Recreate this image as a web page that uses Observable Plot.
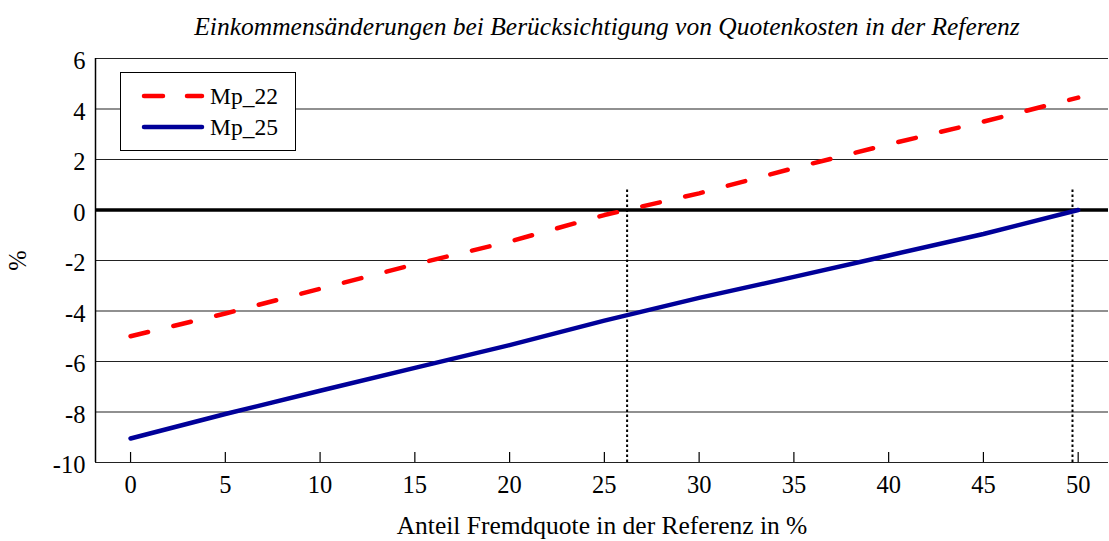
<!DOCTYPE html>
<html>
<head>
<meta charset="utf-8">
<script src="https://cdn.jsdelivr.net/npm/d3@7"></script>
<script src="https://cdn.jsdelivr.net/npm/@observablehq/plot@0.6"></script>
<style>
  html, body { margin: 0; padding: 0; background: #fff; }
  #wrap { position: relative; width: 1109px; height: 541px; font-family: "Liberation Serif", "Times New Roman", serif; }
  #title { height: 40px; box-sizing: border-box; padding-top: 14px; padding-left: 105px; text-align: center; font-style: italic; font-size: 25.5px; line-height: 26px; color: #000; white-space: nowrap; }
  #legend { position: absolute; left: 120px; top: 72px; width: 176px; height: 79px; box-sizing: border-box; border: 1px solid #000; background: #fff; font-size: 23.5px; }
  #legend .row { position: absolute; left: 0; height: 30px; width: 176px; }
  #legend svg { position: absolute; left: 18px; top: 0; }
  #legend span { position: absolute; left: 89px; top: 2px; line-height: 26px; }
</style>
</head>
<body>
<div id="wrap">
  <div id="title">Einkommensänderungen bei Berücksichtigung von Quotenkosten in der Referenz</div>
  <div id="chart"></div>
  <div id="legend"></div>
</div>
<script>
const xs = [0, 5, 10, 15, 20, 25, 30, 35, 40, 45, 50];
const mp22 = [-5.0, -4.1, -3.12, -2.15, -1.25, -0.2, 0.66, 1.66, 2.6, 3.5, 4.45];
const mp25 = [-9.05, -8.08, -7.16, -6.25, -5.35, -4.38, -3.48, -2.65, -1.8, -0.95, 0];
const seriesNames = ["Mp_22", "Mp_25"];
const seriesColors = ["#ff0000", "#000099"];
const yTicks = [-10, -8, -6, -4, -2, 0, 2, 4, 6];
const xTicks = [0, 5, 10, 15, 20, 25, 30, 35, 40, 45, 50];
const markers = [26.2, 49.7];
const markerTop = 0.8;
const xDomain = [-1.85, 51.6];
const yDomain = [-10, 6];

const d22 = xs.map((x, i) => ({x, y: mp22[i]}));
const d25 = xs.map((x, i) => ({x, y: mp25[i]}));
const fmt = d => String(d);

const chart = Plot.plot({
  width: 1109,
  height: 501,
  marginLeft: 95,
  marginRight: 1,
  marginTop: 18,
  marginBottom: 79,
  style: {fontFamily: "'Liberation Serif', 'Times New Roman', serif", fontSize: "24px", color: "#000", background: "#fff"},
  x: {domain: xDomain},
  y: {domain: yDomain},
  marks: [
    Plot.ruleY(yTicks.filter(d => d !== 0), {stroke: "#222", strokeWidth: 1.2}),
    Plot.ruleX([xDomain[0]], {stroke: "#000", strokeWidth: 1.5}),
    Plot.ruleX(markers, {y1: yDomain[0], y2: markerTop, stroke: "#000", strokeWidth: 2, strokeDasharray: "2.5,2.5"}),
    Plot.ruleY([0], {stroke: "#000", strokeWidth: 3.5}),
    Plot.axisX(xTicks, {tickSize: -10, text: null, stroke: "#000", strokeWidth: 1.2, label: null}),
    Plot.axisX(xTicks, {tickSize: 0, tickPadding: 13, fontSize: 24.5, tickFormat: fmt, label: null}),
    Plot.axisX([], {tickSize: 0, fontSize: 25.5, dx: 5, label: "Anteil Fremdquote in der Referenz in %", labelAnchor: "center", labelArrow: "none", labelOffset: 71}),
    Plot.axisY(yTicks, {tickSize: 0, tickPadding: 10, fontSize: 24.5, dy: 3, tickFormat: fmt, label: "%", labelAnchor: "center", labelArrow: "none", labelOffset: 87}),
    Plot.line(d25, {x: "x", y: "y", stroke: seriesColors[1], strokeWidth: 4.5, strokeLinecap: "round"}),
    Plot.line(d22, {x: "x", y: "y", stroke: seriesColors[0], strokeWidth: 4.5, strokeLinecap: "round", strokeDasharray: "18,26"})
  ]
});
document.getElementById("chart").appendChild(chart);

const legend = document.getElementById("legend");
seriesNames.forEach((name, i) => {
  const row = document.createElement("div");
  row.className = "row";
  row.style.top = (i === 0 ? 8 : 39) + "px";
  const dash = i === 0 ? 'stroke-dasharray="19,24"' : '';
  row.innerHTML = `<svg width="70" height="30"><line x1="5" y1="15" x2="63" y2="15" stroke="${seriesColors[i]}" stroke-width="4.5" stroke-linecap="round" ${dash}/></svg><span>${name}</span>`;
  legend.appendChild(row);
});
</script>
</body>
</html>
